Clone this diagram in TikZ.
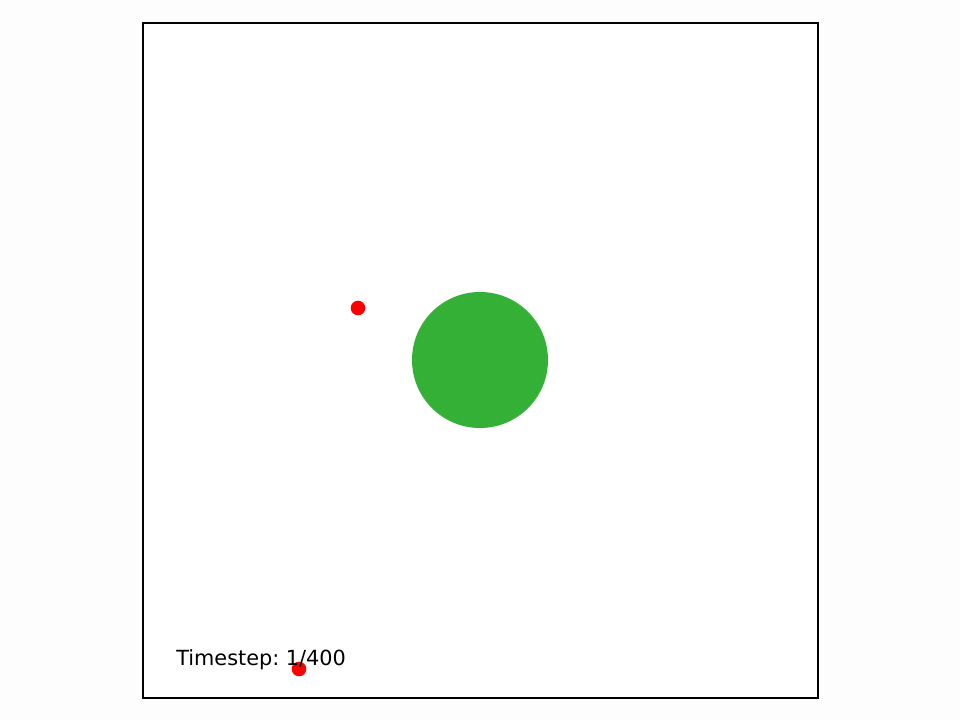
\documentclass[tikz,border=0pt]{standalone}
\usepackage{fontspec}
\setmainfont{DejaVu Sans}
\usepackage{tikz}
\definecolor{bgwhite}{RGB}{253,253,253}
\definecolor{bodygreen}{RGB}{51,176,53}
\definecolor{dotred}{RGB}{255,0,0}
\frenchspacing
\begin{document}
\begin{tikzpicture}[x=0.72pt, y=-0.72pt]
\fill[bgwhite] (0,0) rectangle (960,720);
\useasboundingbox (0,0) rectangle (960,720);
\fill[white] (143,23) rectangle (818,698);
\draw[line width=0.8pt, color=black] (143,23) rectangle (818,698);
\fill[bodygreen] (480,360) circle (68);
\foreach \x/\y in {358/308, 299/669} {
\fill[dotred] (\x,\y) circle (7.3);
}
\node[anchor=base west, inner sep=0pt, font=\fontsize{15pt}{18pt}\selectfont] (label) at (176,665) {Timestep: 1/400};
\end{tikzpicture}
\end{document}
